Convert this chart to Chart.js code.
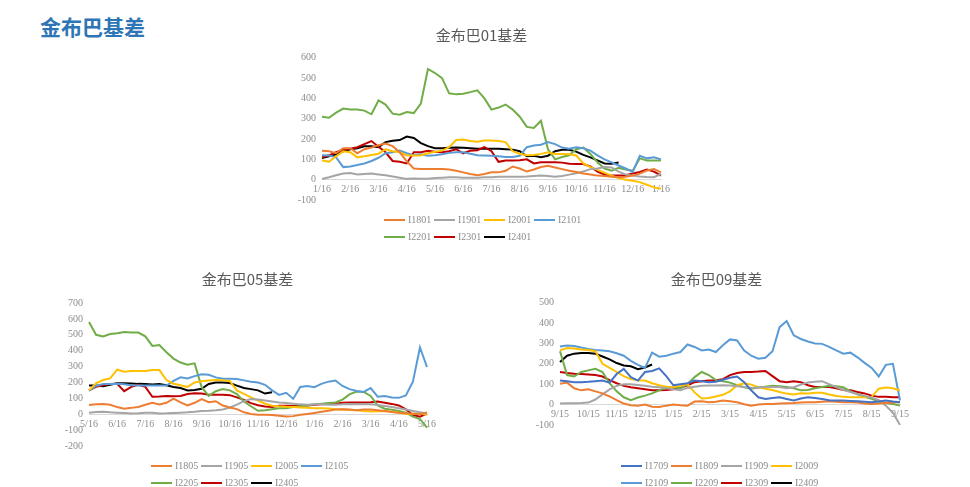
<!DOCTYPE html>
<html>
<head>
<meta charset="utf-8">
<script src="https://cdn.jsdelivr.net/npm/chart.js@4.4.1/dist/chart.umd.min.js"></script>
<style>
    body { margin: 0; background: #fff; width: 970px; height: 487px; position: relative; overflow: hidden; }
    .page-title { position: absolute; left: 40px; top: 11px; font: bold 21px "Noto Sans CJK SC", sans-serif; color: #2e75b6; }
    canvas { position: absolute; }
    .legend { position: absolute; display: flex; flex-wrap: wrap; font: 10px "Liberation Serif", serif; color: #8c8c8c; }
    .legend .item { width: 50px; height: 17px; display: flex; align-items: center; white-space: nowrap; }
    .legend .swatch { display: inline-block; width: 21px; height: 2px; margin-right: 3px; }
</style>
</head>
<body>
<div class="page-title">金布巴基差</div>

<canvas id="chart01" width="400" height="192" style="left:280px;top:20px"></canvas>
<div class="legend" id="legend01" style="left:384px;top:211px;width:200px"></div>

<canvas id="chart05" width="410" height="196" style="left:40px;top:262px"></canvas>
<div class="legend" id="legend05" style="left:151px;top:457px;width:200px"></div>

<canvas id="chart09" width="405" height="175" style="left:515px;top:262px"></canvas>
<div class="legend" id="legend09" style="left:621px;top:457px;width:200px"></div>

<script>
// x axis: 4 points per month, month labels every 4th point
const stepsPerMonth = 4;

// ---- 金布巴01基差 ----
const months01 = ['1/16', '2/16', '3/16', '4/16', '5/16', '6/16', '7/16', '8/16', '9/16', '10/16', '11/16', '12/16', '1/16'];
const i1801 = [143, 140, 130, 155, 155, 130, 150, 158, 170, 178, 165, 135, 90, 55, 53, 53, 53, 53, 50, 44, 36, 28, 22, 28, 36, 36, 44, 65, 55, 40, 50, 62, 68, 60, 52, 44, 38, 30, 25, 20, 18, 15, 12, 15, 20, 30, 45, 52, 36];
const i1901 = [3, 12, 22, 30, 33, 26, 28, 30, 26, 22, 16, 10, 4, 6, 4, 5, 8, 10, 12, 12, 10, 9, 10, 12, 12, 14, 15, 15, 15, 16, 18, 20, 18, 15, 18, 25, 32, 40, 52, 55, 62, 60, 40, 25, 20, 16, 13, 12, 28];
const i2001 = [94, 88, 115, 140, 135, 110, 115, 122, 128, 150, 140, 135, 119, 119, 120, 130, 138, 143, 160, 195, 198, 190, 187, 193, 193, 190, 185, 140, 128, 120, 122, 127, 135, 127, 127, 125, 119, 80, 62, 48, 35, 20, 8, 0, -5, -12, -25, -38, -45];
const i2101 = [120, 119, 110, 62, 65, 72, 80, 92, 108, 130, 135, 143, 130, 120, 125, 118, 120, 125, 132, 135, 135, 128, 120, 119, 118, 115, 112, 112, 118, 160, 168, 172, 185, 175, 158, 152, 160, 155, 143, 120, 100, 85, 70, 55, 38, 118, 105, 110, 100];
const i2201 = [310, 305, 330, 350, 346, 345, 340, 322, 390, 370, 325, 320, 333, 328, 375, 545, 525, 500, 425, 420, 423, 431, 440, 400, 345, 355, 370, 345, 310, 260, 255, 290, 150, 100, 112, 120, 150, 158, 127, 86, 55, 44, 58, 50, 44, 105, 94, 95, 94];
const i2301 = [110, 120, 135, 148, 152, 160, 175, 190, 162, 135, 92, 88, 80, 135, 135, 142, 137, 135, 140, 150, 130, 143, 145, 160, 140, 88, 94, 94, 96, 100, 80, 86, 86, 86, 84, 78, 77, 77, 65, 40, 25, 20, 20, 22, 30, 38, 50, 40, 20];
const i2401 = [107, 115, 125, 140, 150, 155, 165, 165, 160, 185, 192, 195, 212, 205, 180, 165, 155, 155, 157, 158, 157, 155, 152, 152, 152, 152, 150, 148, 140, 115, 118, 110, 118, 140, 147, 147, 138, 122, 110, 95, 80, 78, 85];

// ---- 金布巴05基差 ----
const months05 = ['5/16', '6/16', '7/16', '8/16', '9/16', '10/16', '11/16', '12/16', '1/16', '2/16', '3/16', '4/16', '5/16'];
const i1805 = [58, 62, 64, 60, 45, 35, 40, 46, 60, 72, 62, 72, 98, 75, 55, 72, 95, 76, 82, 55, 42, 32, 12, 2, -3, -4, -5, -10, -15, -12, -4, 2, 8, 15, 22, 30, 32, 30, 25, 30, 30, 25, 20, 14, 10, 6, 3, 0, 11];
const i1905 = [10, 14, 15, 12, 10, 8, 5, 6, 10, 9, 5, 6, 8, 10, 12, 15, 20, 22, 25, 30, 42, 60, 82, 95, 92, 86, 80, 74, 70, 66, 62, 60, 63, 62, 60, 60, 62, 64, 63, 64, 62, 58, 52, 45, 38, 30, 20, 12, 4];
const i2005 = [150, 195, 215, 225, 280, 268, 272, 272, 272, 278, 278, 215, 192, 182, 172, 200, 208, 212, 215, 214, 208, 150, 128, 106, 86, 66, 54, 50, 47, 45, 43, 40, 38, 38, 36, 32, 30, 27, 25, 20, 17, 18, 20, 15, 10, 2, 3, 5, -4];
const i2105 = [149, 178, 190, 190, 191, 188, 183, 180, 180, 181, 180, 180, 210, 232, 225, 240, 252, 248, 232, 223, 223, 222, 213, 205, 200, 185, 150, 122, 135, 98, 172, 178, 170, 191, 205, 212, 178, 158, 146, 140, 165, 110, 115, 105, 103, 118, 205, 420, 297];
const i2205 = [580, 500, 490, 505, 510, 518, 514, 514, 490, 430, 435, 390, 350, 325, 312, 320, 170, 115, 145, 158, 150, 127, 80, 50, 22, 25, 32, 38, 38, 45, 50, 55, 62, 66, 70, 74, 92, 125, 143, 140, 115, 55, 35, 28, 20, 10, -15, -30, -85];
const i2305 = [150, 172, 182, 190, 191, 145, 172, 185, 172, 110, 112, 115, 113, 115, 127, 132, 130, 123, 123, 123, 120, 106, 90, 70, 56, 48, 45, 53, 53, 52, 53, 55, 60, 63, 64, 66, 72, 74, 74, 74, 75, 80, 72, 65, 55, 30, -5, -15, 4];
const i2405 = [180, 180, 176, 186, 195, 195, 193, 191, 190, 187, 190, 182, 172, 165, 150, 153, 160, 190, 200, 200, 196, 180, 165, 158, 150, 130, 138];

// ---- 金布巴09基差 ----
const months09 = ['9/15', '10/15', '11/15', '12/15', '1/15', '2/15', '3/15', '4/15', '5/15', '6/15', '7/15', '8/15', '9/15'];
const i1709 = [118, 115, 110, 110, 112, 115, 118, 108, 150, 175, 135, 118, 160, 165, 178, 140, 95, 100, 105, 118, 115, 110, 112, 122, 132, 138, 110, 70, 36, 28, 32, 36, 28, 20, 30, 36, 32, 28, 22, 20, 20, 18, 16, 14, 12, 15, 20, 15, 12];
const i1809 = [102, 108, 80, 70, 75, 65, 55, 40, 22, 5, -3, -5, 0, -10, -12, -5, 0, -3, -5, 15, 16, 12, 14, 20, 16, 12, 2, -5, 0, 3, 3, 5, 7, 8, 10, 12, 12, 14, 16, 14, 12, 12, 10, 5, 3, 6, 8, 10, 12];
const i1909 = [5, 7, 7, 8, 10, 25, 50, 75, 92, 100, 100, 96, 92, 88, 85, 80, 75, 70, 82, 88, 92, 94, 94, 95, 94, 90, 86, 82, 84, 86, 86, 86, 80, 85, 98, 108, 112, 115, 100, 86, 72, 62, 52, 42, 35, 22, -5, -40, -100];
const i2009 = [266, 278, 275, 270, 268, 262, 200, 180, 160, 140, 125, 120, 118, 105, 95, 88, 86, 92, 100, 60, 30, 32, 40, 48, 65, 95, 105, 98, 86, 78, 72, 62, 54, 50, 56, 55, 58, 58, 50, 42, 38, 36, 36, 36, 38, 78, 84, 80, 69];
const i2109 = [285, 290, 288, 280, 273, 268, 265, 262, 252, 240, 215, 195, 180, 255, 235, 240, 250, 258, 295, 283, 266, 270, 258, 291, 320, 315, 265, 240, 225, 230, 262, 380, 410, 340, 322, 310, 300, 298, 283, 266, 250, 255, 232, 205, 180, 138, 195, 200, 20];
const i2209 = [262, 145, 138, 160, 168, 176, 160, 105, 65, 36, 22, 35, 44, 55, 70, 84, 86, 80, 100, 135, 160, 145, 120, 115, 108, 95, 85, 78, 84, 88, 92, 90, 86, 80, 70, 72, 80, 86, 92, 90, 85, 65, 50, 38, 28, 15, 8, 3, -5];
const i2309 = [160, 155, 152, 150, 148, 145, 138, 120, 105, 92, 85, 80, 75, 70, 70, 72, 75, 82, 95, 110, 115, 118, 120, 125, 145, 155, 160, 160, 162, 165, 140, 115, 110, 115, 110, 95, 86, 86, 86, 80, 72, 70, 62, 55, 44, 38, 38, 36, 36];
const i2409 = [209, 240, 250, 253, 253, 250, 236, 222, 204, 192, 188, 174, 182, 197];

const ORANGE = '#ed7d31', GRAY = '#a5a5a5', YELLOW = '#ffc000', BLUE = '#5b9bd5',
      GREEN = '#70ad47', RED = '#c00000', BLACK = '#000000', DARKBLUE = '#4472c4';

// nudge the centred title sideways (the original titles are not centred on the canvas)
const titleShift = {
    id: 'titleShift',
    afterLayout(chart, args, opts) {
        const t = chart.titleBlock;
        if (t && opts.dx) {
            t.left += opts.dx;
            t.right += opts.dx;
        }
    }
};

function buildLabels(months) {
    const labels = [];
    for (let i = 0; i < (months.length - 1) * stepsPerMonth + 1; i++) {
        labels.push(i % stepsPerMonth === 0 ? months[i / stepsPerMonth] : '');
    }
    return labels;
}

function buildLegend(elId, names, colors) {
    const el = document.getElementById(elId);
    names.forEach((name, i) => {
        const item = document.createElement('div');
        item.className = 'item';
        item.innerHTML = '<span class="swatch" style="background:' + colors[i] + '"></span>' + name;
        el.appendChild(item);
    });
}

function makeChart(canvasId, title, months, names, series, colors, yMin, yMax, yWidth, padRight, titlePad, titleDx) {
    const tickFont = { family: 'Liberation Serif', size: 10 };
    new Chart(document.getElementById(canvasId), {
        type: 'line',
        data: {
            labels: buildLabels(months),
            datasets: series.map((values, i) => ({
                label: names[i],
                data: values,
                borderColor: colors[i],
                backgroundColor: colors[i],
                borderWidth: 2,
                pointRadius: 0,
                tension: 0,
                fill: false
            }))
        },
        plugins: [titleShift],
        options: {
            responsive: false,
            animation: false,
            layout: { padding: { left: 0, right: padRight, top: 0, bottom: 8 } },
            plugins: {
                legend: { display: false },
                tooltip: { enabled: false },
                titleShift: { dx: titleDx },
                title: {
                    display: true,
                    text: title,
                    color: '#595959',
                    font: { family: 'Noto Sans CJK SC', size: 15, weight: 'normal', lineHeight: 1.2 },
                    padding: titlePad
                }
            },
            scales: {
                x: {
                    position: { y: 0 },
                    grid: { display: false, drawTicks: false },
                    border: { display: true, color: '#d9d9d9', width: 1 },
                    ticks: {
                        autoSkip: false,
                        maxRotation: 0,
                        padding: 4,
                        color: '#8c8c8c',
                        font: tickFont
                    }
                },
                y: {
                    min: yMin,
                    max: yMax,
                    afterFit: (scale) => { scale.width = yWidth; },
                    grid: { display: false, drawTicks: false },
                    border: { display: false },
                    ticks: { stepSize: 100, padding: 6, color: '#8c8c8c', font: tickFont }
                }
            }
        }
    });
}

const names01 = ['I1801', 'I1901', 'I2001', 'I2101', 'I2201', 'I2301', 'I2401'];
const names05 = ['I1805', 'I1905', 'I2005', 'I2105', 'I2205', 'I2305', 'I2405'];
const names09 = ['I1709', 'I1809', 'I1909', 'I2009', 'I2109', 'I2209', 'I2309', 'I2409'];
const colors7 = [ORANGE, GRAY, YELLOW, BLUE, GREEN, RED, BLACK];
const colors8 = [DARKBLUE, ORANGE, GRAY, YELLOW, BLUE, GREEN, RED, BLACK];

makeChart('chart01', '金布巴01基差', months01, names01,
    [i1801, i1901, i2001, i2101, i2201, i2301, i2401], colors7, -100, 600, 42, 19, { top: 6, bottom: 13.8 }, 11);
makeChart('chart05', '金布巴05基差', months05, names05,
    [i1805, i1905, i2005, i2105, i2205, i2305, i2405], colors7, -200, 700, 49, 23, { top: 8, bottom: 15 }, 14);
makeChart('chart09', '金布巴09基差', months09, names09,
    [i1709, i1809, i1909, i2009, i2109, i2209, i2309, i2409], colors8, -100, 500, 45, 20, { top: 8, bottom: 14.7 }, 9);

buildLegend('legend01', names01, colors7);
buildLegend('legend05', names05, colors7);
buildLegend('legend09', names09, colors8);
</script>
</body>
</html>
